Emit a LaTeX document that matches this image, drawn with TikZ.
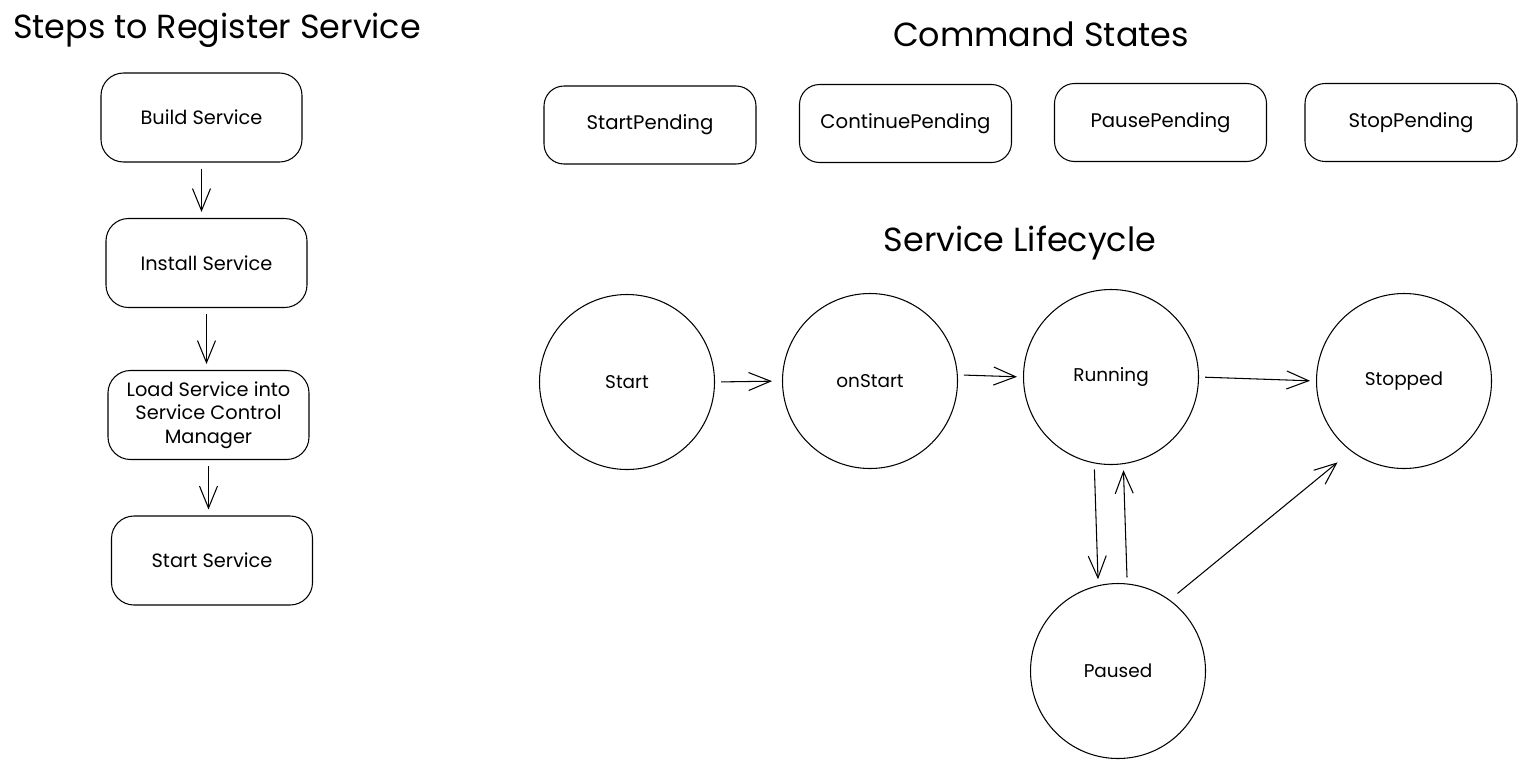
\documentclass[tikz,border=0pt]{standalone}
\usepackage{fontspec}
\setmainfont{Poppins}
\usetikzlibrary{arrows.meta}

\begin{document}
\begin{tikzpicture}[line width=0.6pt]
 \tikzstyle{arrow} = [-{Straight Barb[length=4.4mm,width=3.6mm]},shorten >=0.12cm,shorten <=0.12cm];
 \tikzstyle{title} = [font=\fontsize{19}{22}\selectfont,inner sep=0pt];
 \tikzstyle{stepbox} = [draw,rounded corners=0.45cm,minimum width=4.02cm,minimum height=1.78cm,align=center,font=\fontsize{11}{13.5}\selectfont];
 \tikzstyle{cmdbox} = [draw,rounded corners=0.4cm,minimum width=4.24cm,minimum height=1.56cm,font=\fontsize{11.2}{13}\selectfont];
 \tikzstyle{state} = [draw,circle,minimum size=3.5cm,inner sep=0pt,font=\fontsize{10.5}{12}\selectfont];

 \useasboundingbox (0,0) rectangle (30.52,-15.38);

 % steps to register
 \node[title,name=regtitle] at (4.34,-0.60) {Steps to Register Service};
 \node[stepbox,name=build] at (4.03,-2.35) {Build Service};
 \node[stepbox,name=install] at (4.13,-5.26) {Install Service};
 \node[stepbox,name=load] at (4.17,-8.30) {Load Service into\\Service Control\\Manager};
 \node[stepbox,name=startsvc] at (4.24,-11.21) {Start Service};

 \draw[arrow] (build.south) -- (build.south |- install.north);
 \draw[arrow] (install.south) -- (install.south |- load.north);
 \draw[arrow] (load.south) -- (load.south |- startsvc.north);

 % command states
 \node[title,name=cmdtitle] at (20.82,-0.68) {Command States};
 \node[cmdbox,name=startpend] at (13.00,-2.50) {StartPending};
 \node[cmdbox,name=contpend] at (18.11,-2.47) {ContinuePending};
 \node[cmdbox,name=pausepend] at (23.21,-2.45) {PausePending};
 \node[cmdbox,name=stoppend] at (28.22,-2.45) {StopPending};

 % service lifecycle
 \node[title,name=lifetitle] at (20.40,-4.86) {Service Lifecycle};
 \node[state,name=start] at (12.54,-7.64) {Start};
 \node[state,name=onstart] at (17.40,-7.62) {onStart};
 \node[state,name=running] at (22.22,-7.54) {Running};
 \node[state,name=stopped] at (28.08,-7.62) {Stopped};
 \node[state,name=paused] at (22.36,-13.42) {Paused};

 \draw[arrow,shorten >=0.2cm] (start.east) -- (onstart.west);
 \draw[arrow] (onstart.4) -- (running.180);
 \draw[arrow] (running.east) -- (stopped.west);
 \draw[arrow] (running.259) -- (paused.103);
 \draw[arrow] (paused.84) -- (running.278);
 \draw[arrow,shorten <=0.2cm,shorten >=0.35cm] (paused.54) -- (stopped.233);
\end{tikzpicture}
\end{document}
